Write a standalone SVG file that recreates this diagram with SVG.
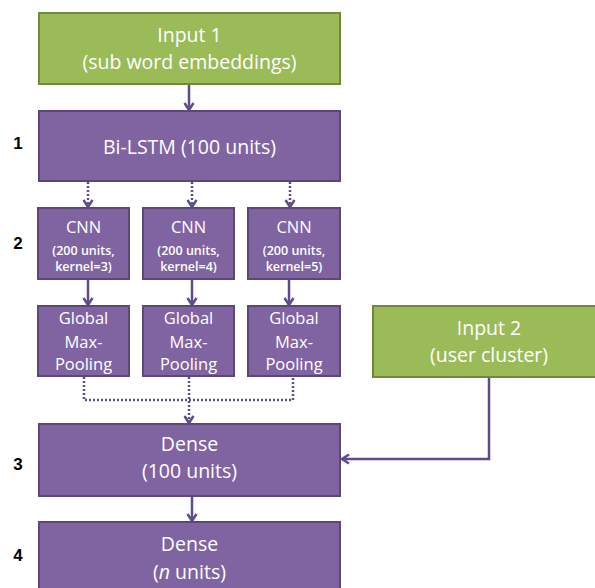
<svg xmlns="http://www.w3.org/2000/svg" width="595" height="588" viewBox="0 0 595 588">
<style>
.g{fill:#9BBB59;stroke:#71893F;stroke-width:2}
.p{fill:#8064A2;stroke:#5C4776;stroke-width:2}
.t{font-family:"Open Sans","Liberation Sans",sans-serif;fill:#fff;text-anchor:middle;font-size:19.5px}
.m{font-family:"Open Sans","Liberation Sans",sans-serif;fill:#fff;text-anchor:middle;font-size:16.5px}
.s{font-family:"Open Sans","Liberation Sans",sans-serif;fill:#fff;text-anchor:middle;font-size:12.5px;font-weight:600}
.n{font-family:"Liberation Sans",sans-serif;fill:#000;text-anchor:middle;font-size:17px;font-weight:bold}
.c{fill:none;stroke:#5F4B8B;stroke-width:2.5}
.d{fill:none;stroke:#5F4B8B;stroke-width:2.5;stroke-dasharray:2 2}
</style>
<defs>
<marker id="a" markerWidth="12" markerHeight="12" refX="9" refY="6" orient="auto" markerUnits="userSpaceOnUse">
<path d="M2,1.5 L9,6 L2,10.5" fill="none" stroke="#5F4B8B" stroke-width="2.5"/>
</marker>
</defs>
<g id="connectors">
<path class="c" d="M189,84 V110" marker-end="url(#a)"/>
<path class="d" d="M88,182 V207" marker-end="url(#a)"/>
<path class="d" d="M192,182 V207" marker-end="url(#a)"/>
<path class="d" d="M290,182 V207" marker-end="url(#a)"/>
<path class="c" d="M88,279 V305" marker-end="url(#a)"/>
<path class="c" d="M192,279 V305" marker-end="url(#a)"/>
<path class="c" d="M289,279 V305" marker-end="url(#a)"/>
<path class="d" d="M84,377 V400 H293 V377"/>
<path class="d" d="M189,377 V423" marker-end="url(#a)"/>
<path class="c" d="M489,377 V459 H342" marker-end="url(#a)"/>
<path class="c" d="M192,496 V521" marker-end="url(#a)"/>
</g>
<g id="input1">
<rect class="g" x="39" y="13" width="301" height="71"/>
<text class="t" x="189.5" y="42">Input 1</text>
<text class="t" x="189.5" y="69">(sub word embeddings)</text>
</g>
<g id="bilstm">
<rect class="p" x="39" y="111" width="301" height="70"/>
<text class="t" x="189.5" y="154">Bi-LSTM (100 units)</text>
</g>
<g id="cnn1">
<rect class="p" x="38" y="208" width="91" height="71"/>
<text class="m" x="83.5" y="233">CNN</text>
<text class="s" x="83.5" y="255">(200 units,</text>
<text class="s" x="83.5" y="271">kernel=3)</text>
</g>
<g id="cnn2">
<rect class="p" x="143" y="208" width="91" height="71"/>
<text class="m" x="188.5" y="233">CNN</text>
<text class="s" x="188.5" y="255">(200 units,</text>
<text class="s" x="188.5" y="271">kernel=4)</text>
</g>
<g id="cnn3">
<rect class="p" x="248" y="208" width="92" height="71"/>
<text class="m" x="294" y="233">CNN</text>
<text class="s" x="294" y="255">(200 units,</text>
<text class="s" x="294" y="271">kernel=5)</text>
</g>
<g id="pool1">
<rect class="p" x="38" y="306" width="91" height="70"/>
<text class="m" x="83.5" y="324">Global</text>
<text class="m" x="83.5" y="348">Max-</text>
<text class="m" x="83.5" y="370">Pooling</text>
</g>
<g id="pool2">
<rect class="p" x="143" y="306" width="91" height="70"/>
<text class="m" x="188.5" y="324">Global</text>
<text class="m" x="188.5" y="348">Max-</text>
<text class="m" x="188.5" y="370">Pooling</text>
</g>
<g id="pool3">
<rect class="p" x="248" y="306" width="92" height="70"/>
<text class="m" x="294" y="324">Global</text>
<text class="m" x="294" y="348">Max-</text>
<text class="m" x="294" y="370">Pooling</text>
</g>
<g id="input2">
<rect class="g" x="373" y="306" width="230" height="71"/>
<text class="t" x="489" y="335">Input 2</text>
<text class="t" x="489" y="362">(user cluster)</text>
</g>
<g id="dense3">
<rect class="p" x="39" y="424" width="301" height="72"/>
<text class="t" x="189.5" y="451">Dense</text>
<text class="t" x="189.5" y="478">(100 units)</text>
</g>
<g id="dense4">
<rect class="p" x="39" y="522" width="301" height="72"/>
<text class="t" x="189.5" y="551">Dense</text>
<text class="t" x="189.5" y="579">(<tspan font-style="italic">n</tspan> units)</text>
</g>
<g id="labels">
<text class="n" x="18" y="149">1</text>
<text class="n" x="18" y="249">2</text>
<text class="n" x="18" y="470">3</text>
<text class="n" x="18" y="561">4</text>
</g>
</svg>
